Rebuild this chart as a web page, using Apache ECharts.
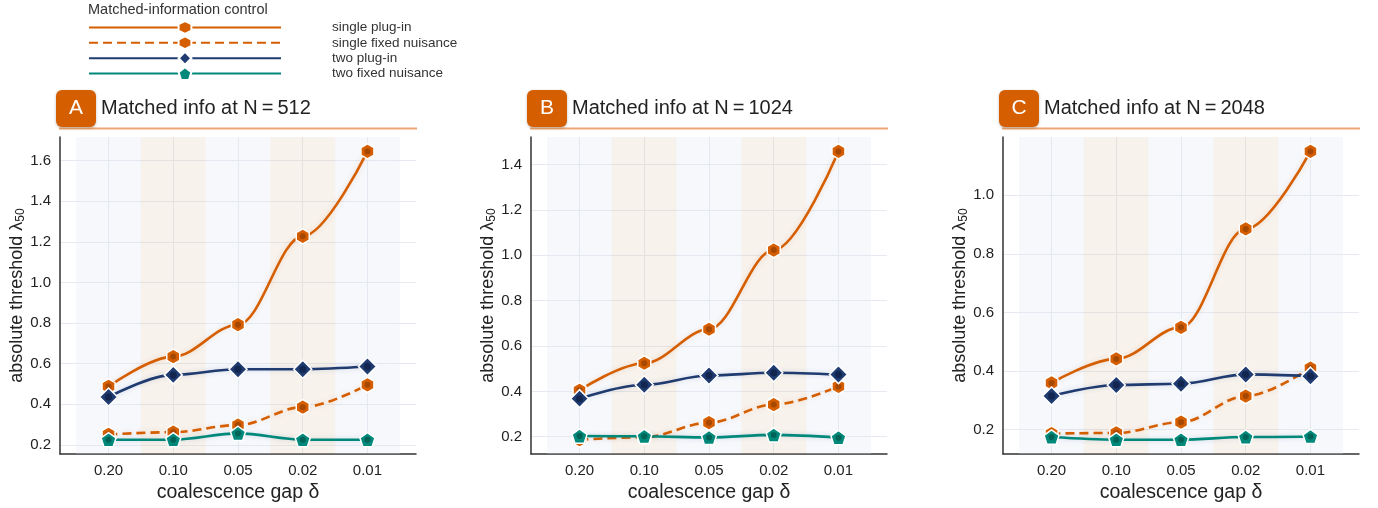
<!DOCTYPE html>
<html>
<head>
<meta charset="utf-8">
<script src="https://cdn.jsdelivr.net/npm/echarts@6/dist/echarts.min.js"></script>
<style>
html,body{margin:0;padding:0;background:#fff;}
#chart{width:1378px;height:508px;}
</style>
</head>
<body>
<div id="chart"></div>
<script>
// ---------------- data ----------------
const categories = ['0.20', '0.10', '0.05', '0.02', '0.01'];
const seriesNames = ['single plug-in', 'single fixed nuisance', 'two plug-in', 'two fixed nuisance'];
const panelLetters = ['A', 'B', 'C'];
const panelN = [512, 1024, 2048];

// Panel A (N = 512)
const singlePlugA  = [0.488, 0.635, 0.792, 1.227, 1.645];
const singleFixedA = [0.252, 0.263, 0.298, 0.386, 0.496];
const twoPlugA     = [0.436, 0.545, 0.573, 0.573, 0.586];
const twoFixedA    = [0.226, 0.226, 0.257, 0.226, 0.226];
// Panel B (N = 1024)
const singlePlugB  = [0.405, 0.524, 0.674, 1.023, 1.458];
const singleFixedB = [0.187, 0.198, 0.262, 0.342, 0.422];
const twoPlugB     = [0.368, 0.429, 0.470, 0.482, 0.474];
const twoFixedB    = [0.203, 0.202, 0.197, 0.208, 0.196];
// Panel C (N = 2048)
const singlePlugC  = [0.359, 0.441, 0.549, 0.885, 1.150];
const singleFixedC = [0.186, 0.188, 0.225, 0.314, 0.410];
const twoPlugC     = [0.314, 0.352, 0.356, 0.388, 0.382];
const twoFixedC    = [0.174, 0.165, 0.165, 0.174, 0.176];

const panelData = [
  [singlePlugA, singleFixedA, twoPlugA, twoFixedA],
  [singlePlugB, singleFixedB, twoPlugB, twoFixedB],
  [singlePlugC, singleFixedC, twoPlugC, twoFixedC]
];

// ---------------- styles ----------------
const FONT = '"Liberation Sans", Arial, Helvetica, sans-serif';
const colors = ['#D55E00', '#D55E00', '#1F3B70', '#00897B'];
const innerColors = ['#9A4200', '#9A4200', '#0F2248', '#005A50'];
const HEX = 'path://M0,-1L0.866,-0.5L0.866,0.5L0,1L-0.866,0.5L-0.866,-0.5Z';
const DIA = 'path://M0,-1L1,0L0,1L-1,0Z';
const PENT = 'path://M0,-1L0.951,-0.309L0.588,0.809L-0.588,0.809L-0.951,-0.309Z';
const symbols = [HEX, HEX, DIA, PENT];
const symbolSizes = [15, 15, 18, 15];
const lineTypes = ['solid', [9, 5], 'solid', 'solid'];

const gridLefts = [60, 531, 1003];
const gridWidth = 356;
const gridTop = 137;
const gridHeight = 321;

const bandBlue = 'rgba(220,228,242,0.25)';
const bandBeige = 'rgba(222,204,178,0.25)';

const grids = [], xAxes = [], yAxes = [], series = [], titles = [], graphics = [];

titles.push({
  text: 'Matched-information control',
  left: 88, top: 2, padding: 0,
  textStyle: { fontFamily: FONT, fontSize: 14.5, fontWeight: 'normal', color: '#333' }
});

for (let p = 0; p < 3; p++) {
  const gl = gridLefts[p];
  grids.push({ left: gl, top: gridTop, width: gridWidth, height: gridHeight, containLabel: false });
  xAxes.push({
    type: 'value', gridIndex: p, min: -0.75, max: 4.75, minInterval: 1, maxInterval: 1,
    name: 'coalescence gap δ', nameLocation: 'middle', nameGap: 25,
    nameTextStyle: { fontFamily: FONT, fontSize: 19.5, color: '#222' },
    axisLine: { show: true, onZero: false, lineStyle: { color: '#333', width: 1.5 } },
    axisTick: { show: false },
    axisLabel: {
      fontFamily: FONT, fontSize: 15, color: '#222', margin: 9,
      showMinLabel: false, showMaxLabel: false,
      formatter: v => (Math.abs(v - Math.round(v)) < 1e-6 && categories[Math.round(v)] !== undefined) ? categories[Math.round(v)] : ''
    },
    splitLine: { show: true, showMinLine: false, showMaxLine: false, lineStyle: { color: '#E6EAF0', width: 1 } }
  });
  yAxes.push({
    type: 'value', gridIndex: p,
    min: v => v.min - 0.05 * (v.max - v.min),
    max: v => v.max + 0.05 * (v.max - v.min),
    minInterval: 0.2, maxInterval: 0.2,
    name: '{a|absolute threshold λ}{s|50}', nameLocation: 'middle', nameGap: 27,
    nameTextStyle: {
      fontFamily: FONT, fontSize: 18, color: '#222',
      rich: {
        a: { fontFamily: FONT, fontSize: 18, color: '#222' },
        s: { fontFamily: FONT, fontSize: 12, color: '#222', padding: [7, 0, 0, 0] }
      }
    },
    axisLine: { show: true, onZero: false, lineStyle: { color: '#333', width: 1.5 } },
    axisTick: { show: false },
    axisLabel: {
      fontFamily: FONT, fontSize: 15, color: '#222', margin: 9,
      showMinLabel: false, showMaxLabel: false,
      formatter: v => v.toFixed(1)
    },
    splitLine: { show: true, showMinLine: false, showMaxLine: false, lineStyle: { color: '#E6EAF0', width: 1 } }
  });

  titles.push({
    left: gl - 4, top: 90, padding: 0,
    text: '{b|' + panelLetters[p] + '}{t|Matched info at N\u2009=\u2009' + panelN[p] + '}',
    textStyle: {
      fontWeight: 'normal',
      rich: {
        b: {
          fontFamily: FONT, fontSize: 21, fontWeight: 'normal', color: '#fff', backgroundColor: '#D55E00',
          width: 40, height: 37, lineHeight: 37, align: 'center', borderRadius: 6,
          shadowColor: 'rgba(0,0,0,0.25)', shadowBlur: 3, shadowOffsetY: 1
        },
        t: { fontFamily: FONT, fontSize: 20, fontWeight: 'normal', color: '#222', padding: [0, 0, 0, 5], lineHeight: 37 }
      }
    }
  });
  graphics.push({
    type: 'line', z: -1,
    shape: { x1: gl - 1, y1: 128.5, x2: gl + gridWidth + 1, y2: 128.5 },
    style: { stroke: '#EFA672', lineWidth: 2 }
  });

  const bands = categories.map((c, j) => [
    { xAxis: j - 0.5, itemStyle: { color: j % 2 === 0 ? bandBlue : bandBeige } },
    { xAxis: j + 0.5 }
  ]);

  for (let s = 0; s < 4; s++) {
    const vals = panelData[p][s];
    const pts = vals.map((v, j) => [j, v]);
    const ser = {
      name: seriesNames[s], type: 'line', xAxisIndex: p, yAxisIndex: p,
      data: pts, smooth: 0.35, smoothMonotone: 'x',
      symbol: symbols[s], symbolSize: symbolSizes[s], symbolKeepAspect: true, showAllSymbol: true,
      color: colors[s],
      lineStyle: {
        color: colors[s], width: 2.6, type: lineTypes[s],
        shadowColor: s >= 2 ? 'rgba(31,59,112,0.18)' : 'rgba(213,94,0,0.18)', shadowBlur: 5
      },
      itemStyle: { color: colors[s], borderColor: '#fff', borderWidth: 1.5 },
      emphasis: { disabled: true },
      z: 3 + s
    };
    if (s === 0) {
      ser.markArea = { silent: true, data: bands, itemStyle: { borderWidth: 0 } };
    }
    series.push(ser);
    series.push({
      name: seriesNames[s] + ' centre', type: 'scatter', xAxisIndex: p, yAxisIndex: p,
      data: pts, symbol: 'circle', symbolSize: s === 2 ? 7 : 6,
      itemStyle: { color: innerColors[s] }, silent: true, z: 3 + s
    });
  }
}

const option = {
  backgroundColor: '#fff',
  animation: false,
  title: titles,
  legend: {
    data: seriesNames, orient: 'vertical', left: 88, top: 20, padding: 0,
    itemWidth: 192, itemHeight: 16, itemGap: 0.6,
    textStyle: { fontFamily: FONT, fontSize: 13.5, color: '#333', padding: [0, 0, 0, 46] },
    selectedMode: false
  },
  grid: grids,
  xAxis: xAxes,
  yAxis: yAxes,
  series: series,
  graphic: graphics
};

const chart = echarts.init(document.getElementById('chart'), null, { renderer: 'canvas' });
chart.setOption(option);
</script>
</body>
</html>
